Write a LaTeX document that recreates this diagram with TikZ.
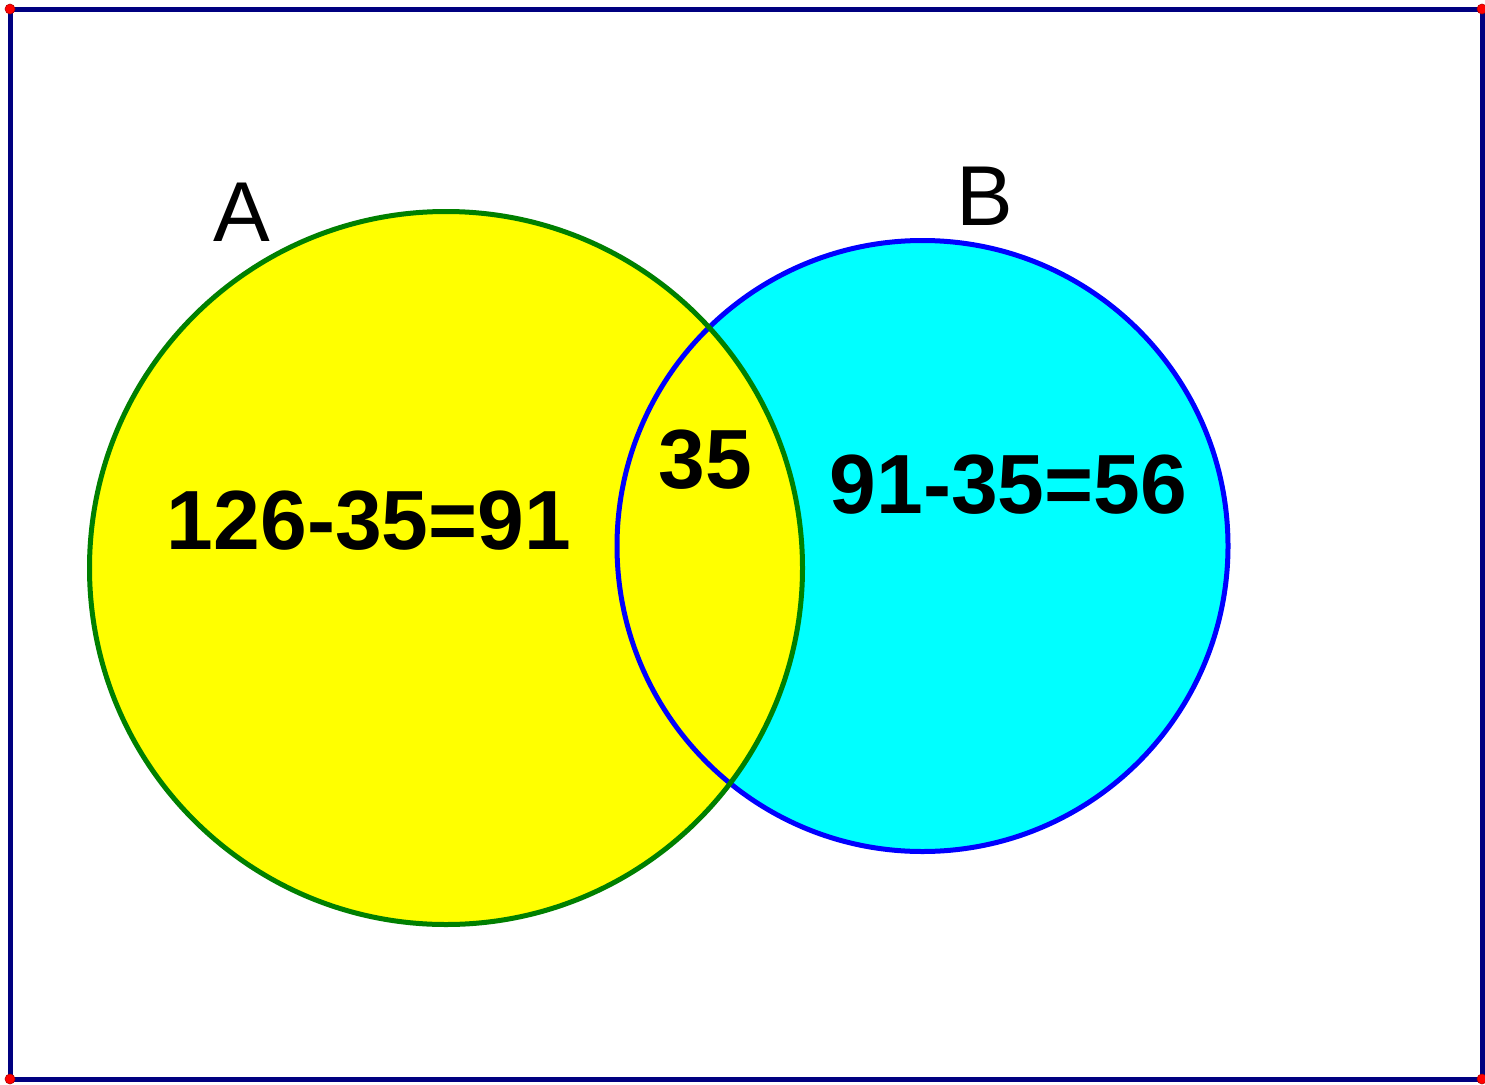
\documentclass[tikz,border=0pt]{standalone}
\usepackage{fontspec}
\setmainfont{Liberation Sans}
\definecolor{frameblue}{RGB}{0,0,128}
\definecolor{agreen}{RGB}{0,128,0}
\definecolor{bblue}{RGB}{0,0,255}
\definecolor{acol}{RGB}{255,255,0}
\definecolor{bcol}{RGB}{0,255,255}
\definecolor{dotred}{RGB}{255,0,0}
\begin{document}
\begin{tikzpicture}[x=1pt,y=-1pt,
  setlabel/.style={inner sep=0pt,anchor=base,font=\fontsize{85}{85}\selectfont},
  numlabel/.style={inner sep=0pt,anchor=base,font=\fontsize{84}{84}\selectfont\bfseries},
  corner/.style={fill=dotred,draw=dotred!70!black,line width=0.6pt}]
\useasboundingbox (0,0) rectangle (1485,1084);
\fill[white] (0,0) rectangle (1485,1084);
% frame
\coordinate (tl) at (10,9);
\coordinate (tr) at (1482,9);
\coordinate (br) at (1482,1079);
\coordinate (bl) at (10,1079);
\draw[frameblue,line width=5pt] (tl) -- (tr) -- (br) -- (bl) -- cycle;
% circles
\coordinate (ca) at (446,568);
\coordinate (cb) at (922.5,546);
\fill[bcol] (cb) circle[radius=305.5];
\fill[acol] (ca) circle[radius=356.5];
\draw[bblue,line width=5pt] (cb) circle[radius=305.5];
\draw[agreen,line width=5pt] (ca) circle[radius=356.5];
% corner dots
\foreach \c in {tl,tr,br,bl} \fill[corner] (\c) circle[radius=5];
% labels
\node[setlabel] (la) at (241.5,241) {A};
\node[setlabel] (lb) at (985,225) {B};
\node[numlabel] (na) at (369,549) {126-35=91};
\node[numlabel] (nab) at (705.5,488) {35};
\node[numlabel] (nb) at (1008.5,513) {91-35=56};
\end{tikzpicture}
\end{document}
